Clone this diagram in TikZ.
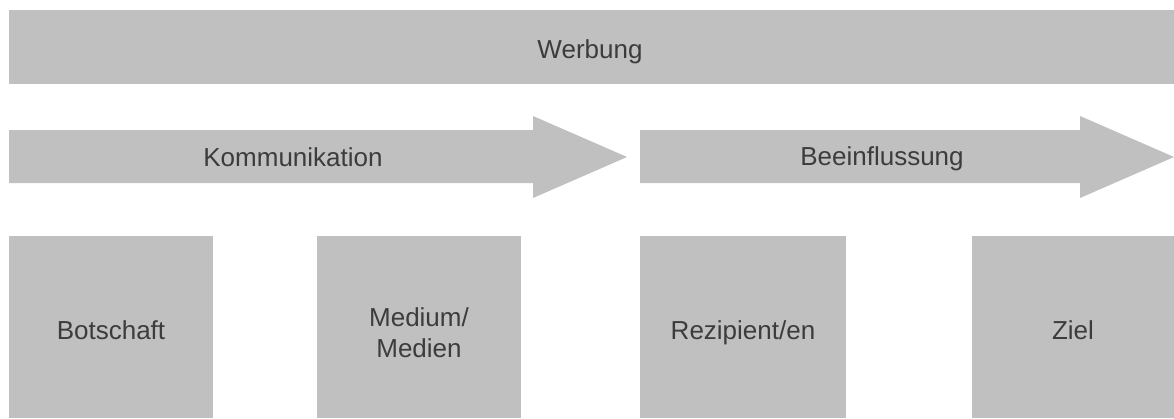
\documentclass[tikz,border=0pt]{standalone}
\usepackage{fontspec}
\setmainfont{Liberation Sans}
\definecolor{boxgray}{HTML}{C0C0C0}
\definecolor{txt}{HTML}{3C3C3C}
\begin{document}
\begin{tikzpicture}[x=1pt,y=-1pt,
  bar/.style={fill=boxgray,draw=none},
  lbl/.style={text=txt,font=\fontsize{26}{31}\selectfont,align=center,inner sep=0pt,anchor=base}]
\useasboundingbox[fill=white] (0,0) rectangle (1174,418);
% Werbung bar
\fill[bar] (9,10) rectangle (1174,84);
\node[lbl] (werbung) at (590,58) {Werbung};
% arrows
\fill[bar] (9,130) -- (533,130) -- (533,116) -- (627,157) -- (533,198) -- (533,183) -- (9,183) -- cycle;
\node[lbl] (komm) at (293,166) {Kommunikation};
\fill[bar] (640,130) -- (1080,130) -- (1080,116) -- (1174,157) -- (1080,198) -- (1080,183) -- (640,183) -- cycle;
\node[lbl] (beein) at (882,165) {Beeinflussung};
% boxes
\fill[bar] (9,236) rectangle (213,418);
\fill[bar] (317,236) rectangle (521,418);
\fill[bar] (640,236) rectangle (846,418);
\fill[bar] (972,236) rectangle (1174,418);
\node[lbl] (botschaft) at (111,339) {Botschaft};
\node[lbl] (medium) at (419,357) {Medium/\\Medien};
\node[lbl] (rezipient) at (743,339) {Rezipient/en};
\node[lbl] (ziel) at (1073,339) {Ziel};
\end{tikzpicture}
\end{document}
